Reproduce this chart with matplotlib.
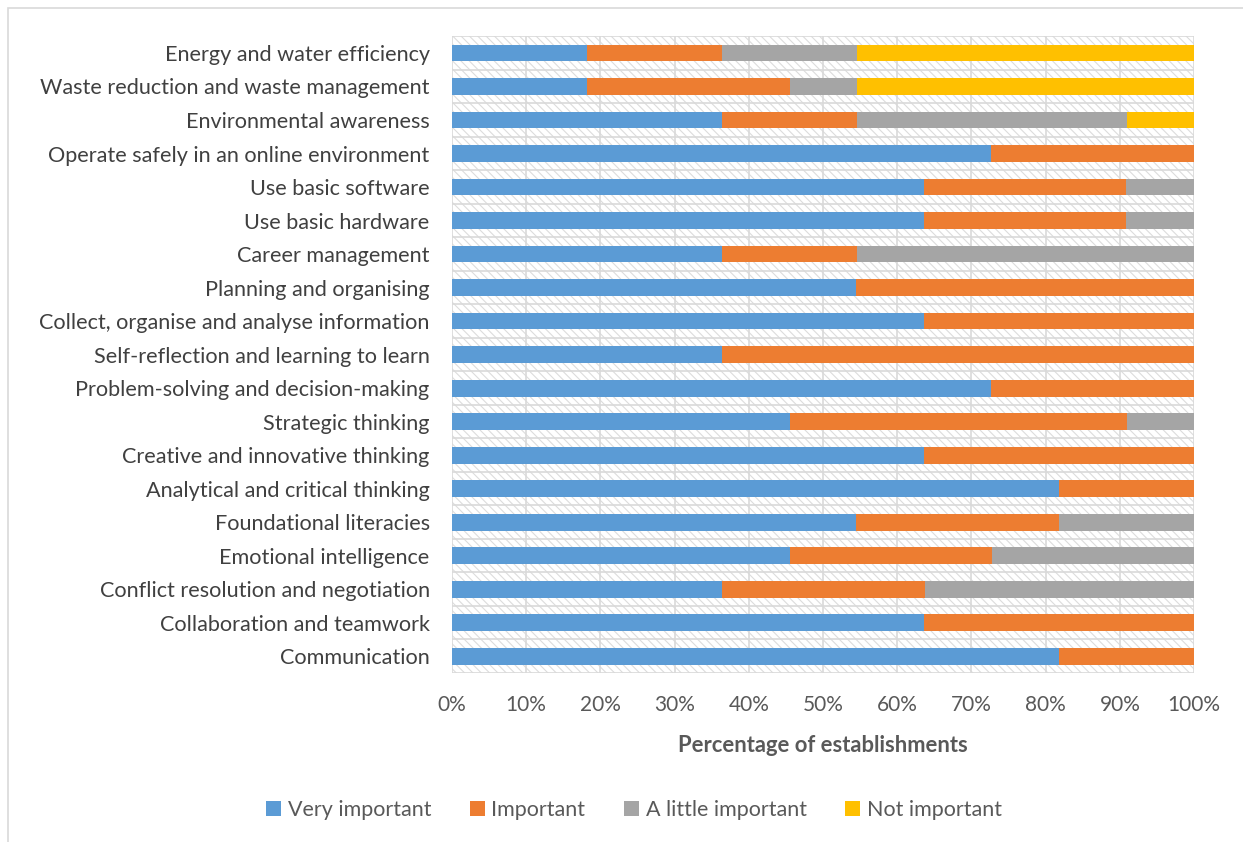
import matplotlib.pyplot as plt
from matplotlib.patches import Rectangle
from matplotlib.ticker import PercentFormatter

plt.rcParams['font.family'] = ['Lato', 'DejaVu Sans']
plt.rcParams['hatch.linewidth'] = 0.8

skills = [
    'Communication', 'Collaboration and teamwork', 'Conflict resolution and negotiation',
    'Emotional intelligence', 'Foundational literacies', 'Analytical and critical thinking',
    'Creative and innovative thinking', 'Strategic thinking', 'Problem-solving and decision-making',
    'Self-reflection and learning to learn', 'Collect, organise and analyse information',
    'Planning and organising', 'Career management', 'Use basic hardware', 'Use basic software',
    'Operate safely in an online environment', 'Environmental awareness',
    'Waste reduction and waste management', 'Energy and water efficiency',
]
# percentage of establishments (bottom row first)
very_important = [81.8, 63.6, 36.4, 45.5, 54.5, 81.8, 63.6, 45.5, 72.7, 36.4, 63.6, 54.5, 36.4, 63.6, 63.6, 72.7, 36.4, 18.2, 18.2]
important = [18.2, 36.4, 27.3, 27.3, 27.3, 18.2, 36.4, 45.5, 27.3, 63.6, 36.4, 45.5, 18.2, 27.3, 27.3, 27.3, 18.2, 27.3, 18.2]
little_important = [0, 0, 36.4, 27.3, 18.2, 0, 0, 9.1, 0, 0, 0, 0, 45.5, 9.1, 9.1, 0, 36.4, 9.1, 18.2]
not_important = [0, 0, 0, 0, 0, 0, 0, 0, 0, 0, 0, 0, 0, 0, 0, 0, 9.1, 45.5, 45.4]

series = [
    ('Very important', very_important, '#5b9bd5'),
    ('Important', important, '#ed7d31'),
    ('A little important', little_important, '#a5a5a5'),
    ('Not important', not_important, '#ffc000'),
]

fig = plt.figure(figsize=(12.43, 8.42), dpi=100)
ax = fig.add_axes([0.3636, 0.2007, 0.5970, 0.7563])

# hatched plot background
ax.add_patch(Rectangle((0, 0), 1, 1, transform=ax.transAxes, facecolor='white',
                       edgecolor='#dcdcdc', hatch='\\\\\\\\', linewidth=0, zorder=0))

y = list(range(len(skills)))
left = [0] * len(skills)
for name, vals, color in series:
    ax.barh(y, vals, left=left, height=0.5, color=color, label=name, zorder=3)
    left = [a + b for a, b in zip(left, vals)]

ax.set_xlim(0, 100)
ax.set_ylim(-0.5, len(skills) - 0.5)
ax.set_xticks(range(0, 101, 10))
ax.xaxis.set_major_formatter(PercentFormatter(decimals=0))
ax.set_yticks(y)
ax.set_yticklabels(skills)
ax.set_yticks([i - 0.5 for i in range(len(skills) + 1)], minor=True)
ax.grid(axis='x', color='#d9d9d9', linewidth=1.2, zorder=1)
ax.grid(axis='y', which='minor', color='#d9d9d9', linewidth=1.2, zorder=1)
ax.tick_params(axis='both', which='both', length=0)
ax.tick_params(axis='y', labelsize=15.6, labelcolor='#404040', pad=16)
ax.tick_params(axis='x', labelsize=15, labelcolor='#595959', pad=16)
for s in ax.spines.values():
    s.set_visible(False)
ax.set_xlabel('Percentage of establishments', fontsize=15.8, fontweight='bold',
              color='#595959', labelpad=14)

fig.legend(loc='center', bbox_to_anchor=(0.51, 0.038), ncol=4, frameon=False,
           fontsize=15.5, handlelength=0.7, handleheight=0.7, columnspacing=1.8,
           handletextpad=0.3, labelcolor='#595959')

# outer chart border
fig.add_artist(Rectangle((0.0065, -0.01), 1.0, 1.0, transform=fig.transFigure,
                         fill=False, edgecolor='#d9d9d9', linewidth=1.2))

fig.savefig('out.png', dpi=100)
